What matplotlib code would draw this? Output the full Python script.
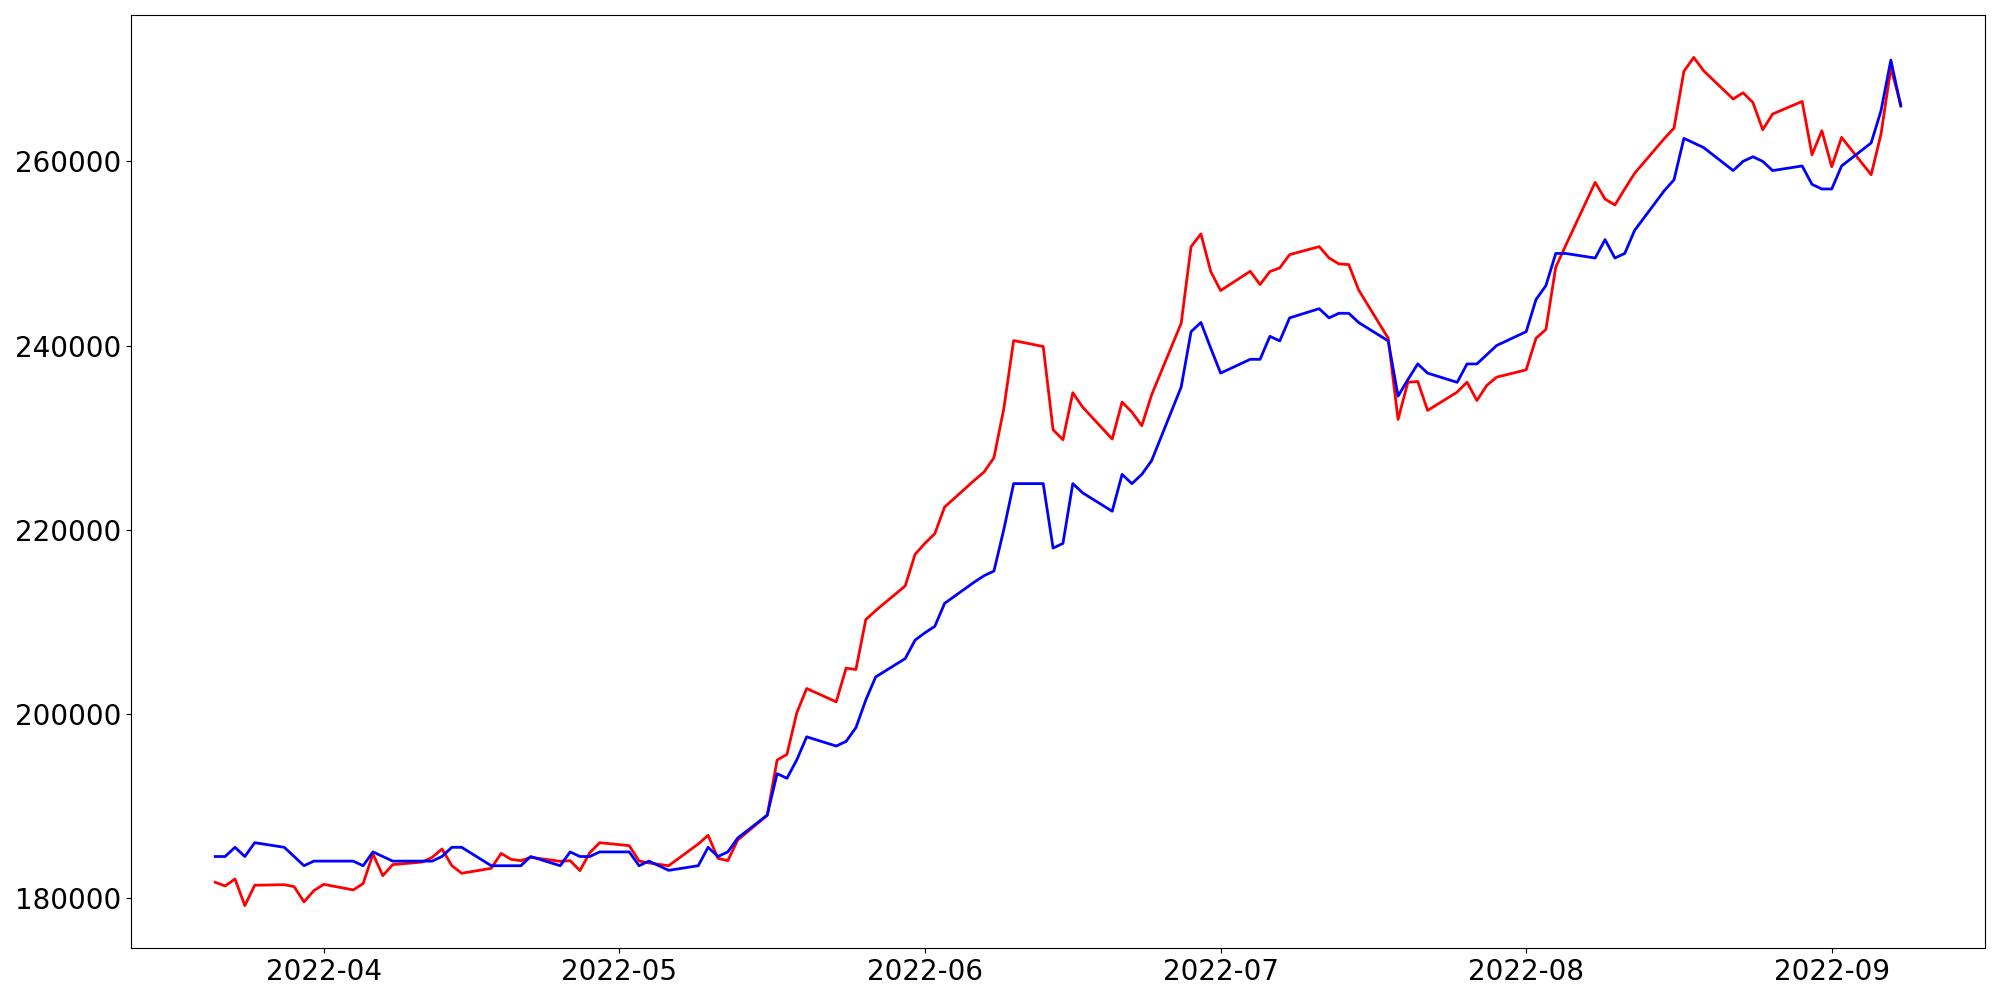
import matplotlib
matplotlib.use('Agg')
import matplotlib.pyplot as plt
import matplotlib.dates as mdates
import pandas as pd

# trading days (weekdays) shown on the chart
dates = pd.bdate_range('2022-03-21', '2022-09-08')

red_vals = [
    181700, 181300, 182060, 179170, 181380,
    181440, 181230, 179570, 180790, 181480,
    180870, 181560, 184770, 182420, 183620,
    183900, 184400, 185320, 183510, 182680,
    183220, 184840, 184200, 184050, 184410,
    183980, 184050, 182970, 184920, 186000,
    185680, 184010, 183800, 183650, 183500,
    185860, 186800, 184300, 184050, 186290,
    188970, 194970, 195590, 200110, 202750,
    201300, 204960, 204810, 210230, 211210,
    213890, 217320, 218520, 219570, 222460,
    225350, 226260, 227810, 233130, 240540,
    239890, 230850, 229770, 234870, 233310,
    229840, 233850, 232770, 231290, 234650,
    242420, 250740, 252120, 248030, 245970,
    248060, 246620, 248030, 248430, 249870,
    250740, 249510, 248860, 248790, 246040,
    240790, 231970, 236020, 236090, 232950,
    234940, 236020, 234030, 235660, 236560,
    237360, 240790, 241740, 248500, 250850,
    257720, 255910, 255260, 257000, 258700,
    262460, 263620, 269770, 271290, 269840,
    266770, 267450, 266400, 263440, 265140,
    266510, 260720, 263330, 259420, 262600,
    258550, 262970, 270130, 266200,
]

blue_vals = [
    184500, 184500, 185500, 184500, 186000,
    185500, 184500, 183500, 184000, 184000,
    184000, 183500, 185000, 184500, 184000,
    184000, 184000, 184500, 185500, 185500,
    183500, 183500, 183500, 183500, 184500,
    183500, 185000, 184500, 184500, 185000,
    185000, 183500, 184000, 183500, 183000,
    183500, 185500, 184500, 185000, 186500,
    189000, 193500, 193000, 195000, 197500,
    196500, 197000, 198500, 201500, 204000,
    206000, 208000, 208800, 209500, 212000,
    214300, 215000, 215500, 220000, 225000,
    225000, 218000, 218500, 225000, 224000,
    222000, 226000, 225000, 226000, 227500,
    235500, 241500, 242500, 239700, 237000,
    238500, 238500, 241000, 240500, 243000,
    244000, 243000, 243500, 243500, 242500,
    240500, 234500, 236300, 238000, 237000,
    236000, 238000, 238000, 239000, 240000,
    241500, 245000, 246500, 250000, 250000,
    249500, 251500, 249500, 250000, 252500,
    256800, 258000, 262500, 262000, 261500,
    259000, 260000, 260500, 260000, 259000,
    259500, 257500, 257000, 257000, 259500,
    262000, 265500, 271000, 266000,
]

fig, ax = plt.subplots(figsize=(20, 10), dpi=100)
fig.subplots_adjust(left=0.0655, right=0.9925, bottom=0.052, top=0.985)

ax.plot(dates, red_vals, color='red', linewidth=2)
ax.plot(dates, blue_vals, color='blue', linewidth=2)

ax.xaxis.set_major_locator(mdates.MonthLocator())
ax.xaxis.set_major_formatter(mdates.DateFormatter('%Y-%m'))
ax.ticklabel_format(axis='y', style='plain', useOffset=False)
ax.tick_params(labelsize=20)

fig.savefig('out.png')
